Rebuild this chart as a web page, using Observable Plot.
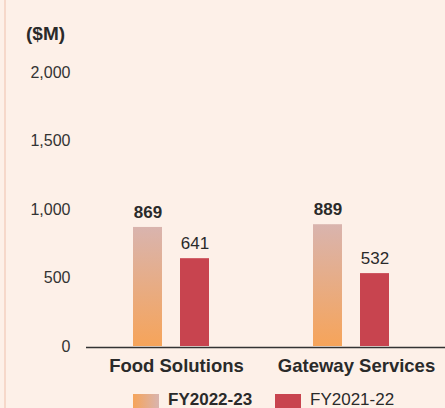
<!DOCTYPE html>
<html>
<head>
<meta charset="utf-8">
<script src="https://cdn.jsdelivr.net/npm/d3@7"></script>
<script src="https://cdn.jsdelivr.net/npm/@observablehq/plot@0.6"></script>
<style>
  html, body { margin: 0; padding: 0; background: #fdf0e8; }
  #wrap { position: relative; width: 445px; height: 408px; overflow: hidden; background: #fdf0e8; font-family: "Liberation Sans", Arial, sans-serif; color: #222; }
  #border { position: absolute; left: 4px; top: 0; width: 2px; height: 408px; background: #f6d8ca; }
  #title { position: absolute; left: 26px; top: 24px; font-size: 19px; font-weight: bold; line-height: 19px; color: #2a2a2a; }
  #chart { position: absolute; left: 0; top: 0; }
  .sw { position: absolute; top: 394px; width: 26px; height: 16px; }
  .lt { position: absolute; top: 391px; font-size: 17px; line-height: 17px; color: #2a2a2a; }
</style>
</head>
<body>
<div id="wrap">
  <div id="border"></div>
  <div id="chart"></div>
  <div id="title">($M)</div>
  <div class="sw" style="left:133px;background:linear-gradient(to right,#f6a45a,#d9b4ae);"></div>
  <div class="lt" style="left:168px;font-weight:bold;">FY2022-23</div>
  <div class="sw" style="left:275px;background:#c8444f;"></div>
  <div class="lt" style="left:310px;">FY2021-22</div>
</div>
<script>
const categories = ["Food Solutions", "Gateway Services"];
const series = ["FY2022-23", "FY2021-22"];
const fy2223 = [869, 889];
const fy2122 = [641, 532];
const yTicks = [0, 500, 1000, 1500, 2000];

const rows = [];
categories.forEach((c, i) => {
  rows.push({category: c, series: series[0], value: fy2223[i]});
  rows.push({category: c, series: series[1], value: fy2122[i]});
});
const cur = rows.filter(d => d.series === series[0]);
const prev = rows.filter(d => d.series === series[1]);

const plot = Plot.plot({
  width: 445,
  height: 408,
  marginLeft: 81,
  marginRight: 4,
  marginTop: 72,
  marginBottom: 62,
  style: {background: "transparent", fontFamily: "Liberation Sans, Arial, sans-serif", color: "#2a2a2a"},
  fx: {domain: categories, padding: 0, label: null},
  x: {domain: series, paddingInner: 0.383, paddingOuter: 1.106, axis: null},
  y: {domain: [0, 2000]},
  marks: [
    Plot.axisY(yTicks, {tickSize: 0, tickPadding: 11, tickFormat: d3.format(","), fontSize: 16, label: null, fill: "#333"}),
    Plot.axisFx({anchor: "bottom", tickSize: 0, tickPadding: 12, fontSize: 18.5, fontWeight: "bold", label: null, dx: 5, fill: "#2a2a2a"}),
    Plot.barY(cur, {fx: "category", x: "series", y: "value", fill: "url(#gradCur)"}),
    Plot.barY(prev, {fx: "category", x: "series", y: "value", fill: "#c8444f"}),
    Plot.ruleY([0], {stroke: "#333", strokeWidth: 1.5, dx: 5, dy: 1}),
    Plot.text(cur, {fx: "category", x: "series", y: "value", text: d => d3.format(",")(d.value), dy: -15, fontSize: 17, fontWeight: "bold", fill: "#2a2a2a"}),
    Plot.text(prev, {fx: "category", x: "series", y: "value", text: d => d3.format(",")(d.value), dy: -15, fontSize: 17, fill: "#2a2a2a"})
  ]
});

const ns = "http://www.w3.org/2000/svg";
const svg = plot.tagName.toLowerCase() === "svg" ? plot : plot.querySelector("svg");
const defs = document.createElementNS(ns, "defs");
const lg = document.createElementNS(ns, "linearGradient");
lg.setAttribute("id", "gradCur");
lg.setAttribute("x1", "0"); lg.setAttribute("y1", "0");
lg.setAttribute("x2", "0"); lg.setAttribute("y2", "1");
[["0%", "#d9b4ae"], ["100%", "#f6a45a"]].forEach(([o, c]) => {
  const s = document.createElementNS(ns, "stop");
  s.setAttribute("offset", o);
  s.setAttribute("stop-color", c);
  lg.appendChild(s);
});
defs.appendChild(lg);
svg.insertBefore(defs, svg.firstChild);

document.getElementById("chart").appendChild(plot);
</script>
</body>
</html>
